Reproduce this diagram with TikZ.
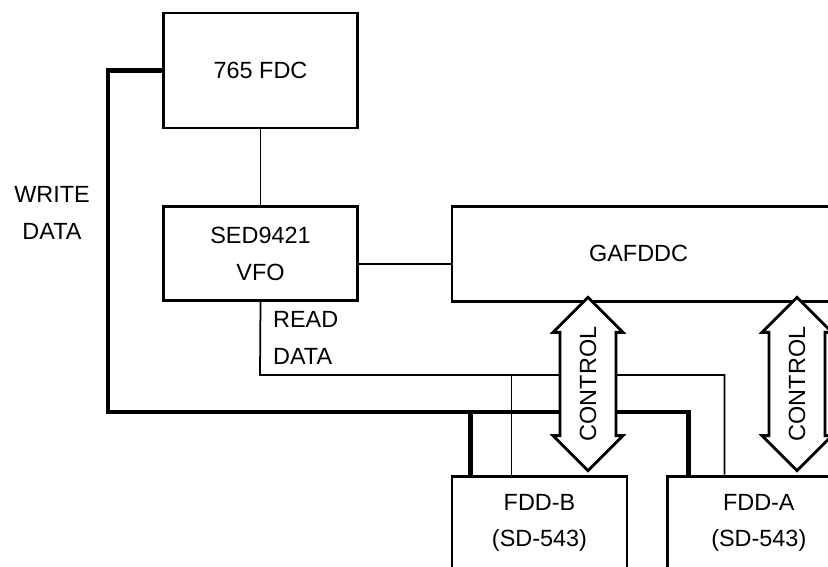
\documentclass[tikz,border=0pt]{standalone}
\usepackage{fontspec}
\setmainfont{Liberation Sans}
\usetikzlibrary{positioning,shapes.arrows}

\begin{document}
\begin{tikzpicture}[x=0.03cm, y=-0.03cm, font=\fontsize{20}{31}\selectfont, node distance=2.28cm,
box/.style={draw, line width=2.4pt, minimum width=5.8cm, minimum height=2.82cm, align=center, inner sep=0pt},
wire/.style={line width=1.5pt},
bus/.style={line width=3.8pt},
ctrl/.style={double arrow, draw, line width=2.4pt, fill=white, rotate=90, minimum height=5.16cm, minimum width=2.1cm, double arrow head extend=0.2cm, inner xsep=0pt, inner ysep=0.5cm}]
\useasboundingbox (0,0) rectangle (828,567);
\clip (0,0) rectangle (828,567);
\node[box, minimum height=3.45cm] (fdc) at (260.5,70.5) {765 FDC};
\node[box, below=of fdc] (vfo) {SED9421\\VFO};
\node[box, right=2.76cm of vfo, minimum width=14cm, minimum height=2.85cm] (gafddc) {};
\node (gafddctext) at ([xshift=5.64cm]gafddc.west) {GAFDDC};
\node[box, below=5.16cm of gafddc.south west, anchor=north west, minimum width=5.25cm] (fddb) {FDD-B\\(SD-543)};
\node[box, right=1.14cm of fddb, minimum width=5.46cm] (fdda) {FDD-A\\(SD-543)};
\node[align=center] (wrlbl) at (52,213) {WRITE\\DATA};
\node[align=left, anchor=west] (rdlbl) at (269,338) {READ\\DATA};
\coordinate (wr) at (108,412);
\coordinate (rd) at (260,375);
\coordinate (wa) at ([xshift=0.66cm]fdda.north west);
\coordinate (wb) at ([xshift=0.6cm]fddb.north west);
\coordinate (ra) at ([xshift=1.74cm]fdda.north west);
\coordinate (rb) at ([xshift=1.83cm]fddb.north west);
\draw[wire] (fdc) -- (vfo);
\draw[wire] ([yshift=-0.3cm]vfo.east) -- ([yshift=-0.3cm]gafddc.west);
\draw[bus] (fdc.west) -| (wr) -| (wa);
\draw[bus] (wb) -- (wb |- wr);
\draw[wire] (vfo.south) -- (rd) -| (ra);
\draw[wire] (rb) -- (rb |- rd);
\node[ctrl] (ctrlb) at (588,384) {CONTROL};
\node[ctrl] (ctrla) at (797,384) {CONTROL};
\end{tikzpicture}
\end{document}
